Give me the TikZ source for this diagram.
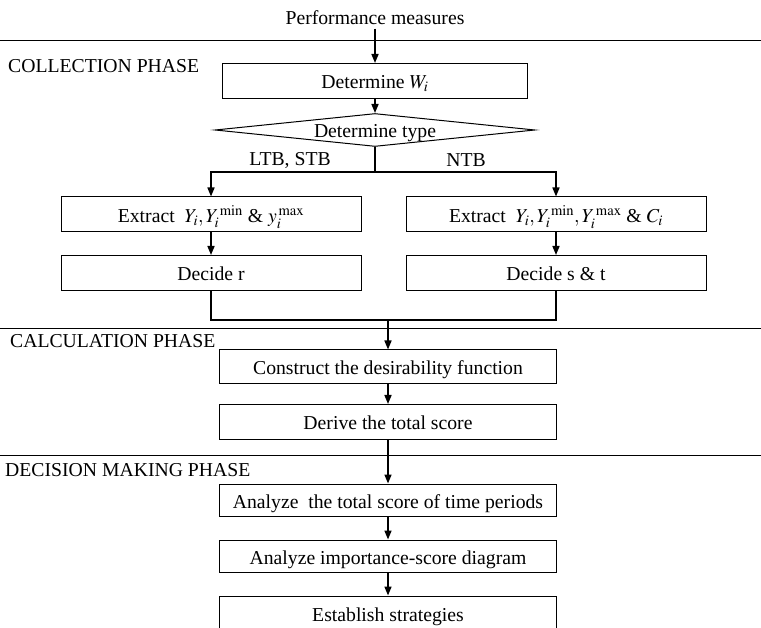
\documentclass[tikz,border=0pt]{standalone}
\usepackage{amsmath}
\usepackage{mathptmx}
\usepackage{fontspec}
\setmainfont{Liberation Serif}
\usetikzlibrary{shapes.geometric, arrows.meta}

\tikzset{
  stepbox/.style={draw, line width=1pt, minimum width=300pt, minimum height=35pt, inner sep=0pt,
                  text height=16pt, text depth=0pt},
  widebox/.style={stepbox, minimum width=337pt, minimum height=34pt},
  phase/.style={anchor=west, inner sep=0pt},
  link/.style={line width=1.6pt},
  flow/.style={link, -{Triangle[length=9pt,width=7pt]}},
  rule/.style={line width=0.9pt},
}

\begin{document}
\begin{tikzpicture}[x=1pt, y=-1pt, font=\fontsize{19.7}{22}\selectfont]
        \useasboundingbox (0,0) rectangle (761,628);
        % phase rules
        \draw[rule] (0,40) -- (761,40);
        \draw[rule] (0,328) -- (761,328);
        \draw[rule] (0,455) -- (761,455);
        \node[phase] (collect) at (8,66) {COLLECTION PHASE};
        \node[phase] (calc) at (10,341) {CALCULATION PHASE};
        \node[phase] (decide) at (5,470) {DECISION MAKING PHASE};
        % collection
        \node (perf) at (375,18) {Performance measures};
        \node[stepbox, minimum width=305pt] (detw) at (375,81) {Determine $W_i$};
        \node[draw, diamond, aspect=9.7, line width=1pt, inner sep=0pt, text height=16pt, text depth=0pt,
              minimum width=320pt, minimum height=33pt] (type) at (375,130) {Determine type};
        \coordinate (split) at (375,172);
        \node (ltb) at (290,160) {LTB, STB};
        \node (ntb) at (466,160) {NTB};
        \node[stepbox] (extl) at (211,214.5) {Extract\ \ $Y_i,Y_i^{\,\min}$ \& $y_i^{\,\max}$};
        \node[stepbox] (extr) at (556,214.5) {Extract\ \ $Y_i,Y_i^{\,\min},Y_i^{\,\max}$ \& $C_i$};
        \node[stepbox] (decr) at (211,273) {Decide r};
        \node[stepbox] (decst) at (556,273) {Decide s \& t};
        \coordinate (merge) at (388,320);
        % calculation
        \node[widebox] (desir) at (388,367) {Construct the desirability function};
        \node[widebox, minimum height=35pt] (total) at (388,422) {Derive the total score};
        % decision making
        \node[widebox, minimum height=32pt] (periods) at (388,500) {Analyze\ \ the total score of time periods};
        \node[widebox, minimum height=32pt] (diagram) at (388,556) {Analyze importance-score diagram};
        \node[widebox] (strat) at (388,613) {Establish strategies};
        % connectors
        \draw[flow] (perf.south) -- (detw.north);
        \draw[flow] (detw.south) -- (type.north);
        \draw[link] (type.south) -- (split);
        \draw[flow] (split) -| (extl.north);
        \draw[flow] (split) -| (extr.north);
        \draw[flow] (extl.south) -- (decr.north);
        \draw[flow] (extr.south) -- (decst.north);
        \draw[link] (decr.south) |- (merge) -| (decst.south);
        \draw[flow] (merge) -- (desir.north);
        \draw[flow] (desir.south) -- (total.north);
        \draw[flow] (total.south) -- (periods.north);
        \draw[flow] (periods.south) -- (diagram.north);
        \draw[flow] (diagram.south) -- (strat.north);
    \end{tikzpicture}
\end{document}
